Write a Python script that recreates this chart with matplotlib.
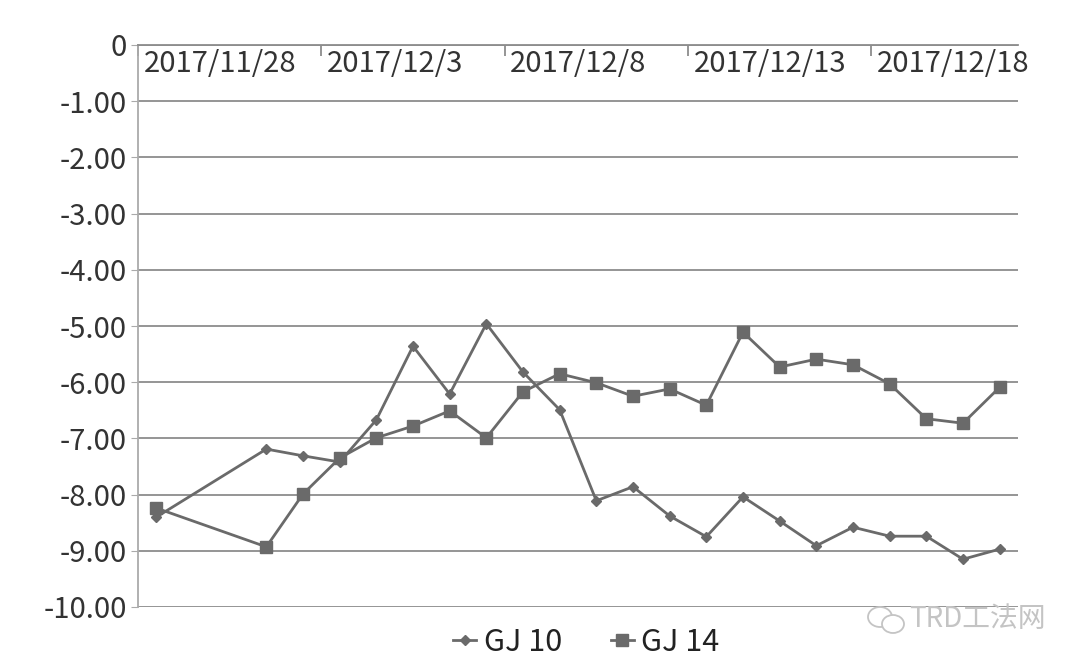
import matplotlib
matplotlib.use("Agg")
import matplotlib.pyplot as plt
import pandas as pd
from matplotlib.ticker import FuncFormatter, FixedLocator
from matplotlib.patches import Ellipse

plt.rcParams['font.family'] = ['Noto Sans CJK SC', 'DejaVu Sans']

start_date = "2017/11/28"
dates = ["2017/11/28", "2017/12/1", "2017/12/2", "2017/12/3", "2017/12/4", "2017/12/5",
         "2017/12/6", "2017/12/7", "2017/12/8", "2017/12/9", "2017/12/10", "2017/12/11",
         "2017/12/12", "2017/12/13", "2017/12/14", "2017/12/15", "2017/12/16", "2017/12/17",
         "2017/12/18", "2017/12/19", "2017/12/20", "2017/12/21"]
gj10 = [-8.40, -7.19, -7.31, -7.42, -6.67, -5.36, -6.21, -4.96, -5.82, -6.49, -8.11,
        -7.86, -8.38, -8.75, -8.04, -8.47, -8.91, -8.58, -8.74, -8.74, -9.15, -8.97]
gj14 = [-8.24, -8.93, -7.99, -7.35, -6.99, -6.78, -6.51, -6.99, -6.17, -5.85, -6.01,
        -6.25, -6.12, -6.41, -5.11, -5.73, -5.59, -5.69, -6.03, -6.65, -6.73, -6.09]
tick_labels = ["2017/11/28", "2017/12/3", "2017/12/8", "2017/12/13", "2017/12/18"]
n_days = 24

x = (pd.to_datetime(dates) - pd.Timestamp(start_date)).days.values
tick_pos = (pd.to_datetime(tick_labels) - pd.Timestamp(start_date)).days.values - 0.5

fig = plt.figure(figsize=(10.70, 6.67), dpi=100)
ax = fig.add_axes([138/1070, 1-607/667, (1018-138)/1070, (607-45)/667])

col = '#6a6a6a'
ax.plot(x, gj10, color=col, lw=2.0, marker='D', ms=5, label='GJ 10', zorder=3)
ax.plot(x, gj14, color=col, lw=2.0, marker='s', ms=9, label='GJ 14', zorder=3)

ax.set_xlim(-0.5, n_days - 0.5)
ax.set_ylim(-10, 0)
ax.set_yticks([-10, -9, -8, -7, -6, -5, -4, -3, -2, -1, 0])
ax.yaxis.set_major_formatter(FuncFormatter(lambda v, p: "0" if abs(v) < 1e-9 else f"{v:.2f}"))
ax.grid(axis='y', color='#8c8c8c', lw=1.3)
ax.set_axisbelow(True)
for s in ['right', 'bottom']:
    ax.spines[s].set_visible(False)
ax.spines['left'].set_color('#aaaaaa')
ax.spines['left'].set_linewidth(1.3)
ax.spines['top'].set_color('#8c8c8c')
ax.spines['top'].set_linewidth(1.3)
ax.tick_params(axis='y', length=5, color='#aaaaaa', labelsize=21, labelcolor='#333333', pad=3)

ax.xaxis.set_ticks_position('top')
ax.xaxis.set_major_locator(FixedLocator(tick_pos))
ax.set_xticklabels([])
ax.tick_params(axis='x', direction='in', length=8, color='#8c8c8c', width=1.3)
for p, lab in zip(tick_pos, tick_labels):
    ax.text(p + 0.15, -0.08, lab, ha='left', va='top', fontsize=21, color='#333333')

leg = fig.legend(loc='lower center', bbox_to_anchor=(0.548, -0.028), ncol=2, frameon=False,
                 fontsize=22, handlelength=0.75, columnspacing=1.6, handletextpad=0.25,
                 labelcolor='#222222')

# watermark
wm = '#c4c4c4'
fig.text(0.913, 0.072, "TRD工法网", fontsize=20, color=wm, ha='center', va='center')
fig.patches.append(Ellipse((880/1070, 1-617/667), 24/1070, 20/667, transform=fig.transFigure,
                           fill=False, edgecolor=wm, lw=1.3))
fig.patches.append(Ellipse((893/1070, 1-624/667), 22/1070, 18/667, transform=fig.transFigure,
                           facecolor='white', edgecolor=wm, lw=1.3))

fig.savefig("out.png", dpi=100, facecolor='white')
